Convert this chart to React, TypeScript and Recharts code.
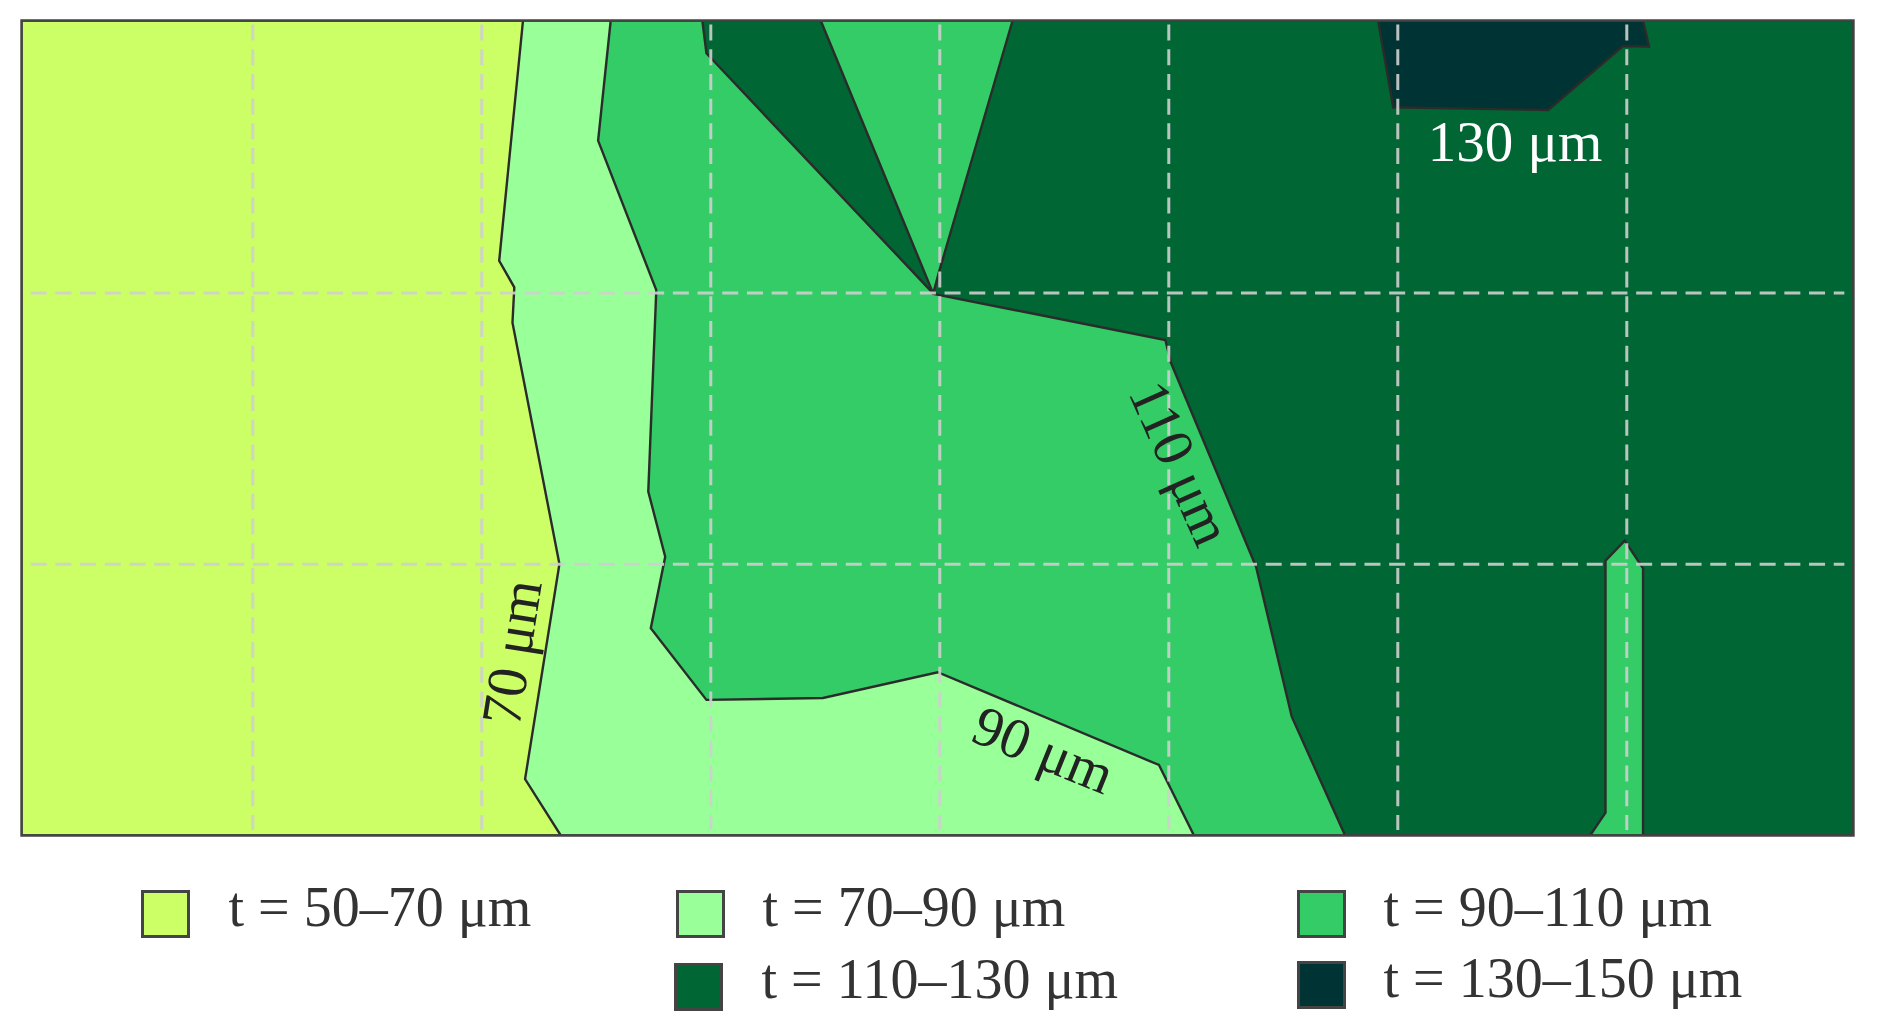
import React from 'react';
import { ScatterChart, Scatter, XAxis, YAxis, ReferenceLine, ReferenceArea, ReferenceDot } from 'recharts';

type Pt = { x: number; y: number };

const COLORS = ['#ccff66', '#99ff99', '#33cc66', '#006633', '#003333'];
const LEGEND_LABELS = ['t = 50–70 μm', 't = 70–90 μm', 't = 90–110 μm', 't = 110–130 μm', 't = 130–150 μm'];

const gridX = [100, 200, 300, 400, 500, 600, 700];
const gridY = [100, 200];

// outlines, closed by repeating the first point
const zone50: Pt[] = [
  { x: -1, y: -0.5 }, { x: 799, y: -0.5 }, { x: 799, y: 300 }, { x: -1, y: 300 }, { x: -1, y: -0.5 },
];
const zone70: Pt[] = [
  { x: 218, y: -0.5 }, { x: 207.6, y: 88.1 }, { x: 214.2, y: 97.9 }, { x: 213.4, y: 110.9 },
  { x: 233.9, y: 199.9 }, { x: 218.9, y: 279.2 }, { x: 234.5, y: 300 },
  { x: 799, y: 300 }, { x: 799, y: -0.5 }, { x: 218, y: -0.5 },
];
const zone90: Pt[] = [
  { x: 256.3, y: -0.5 }, { x: 250.8, y: 43.8 }, { x: 276.2, y: 98.9 }, { x: 272.7, y: 173.2 },
  { x: 280.1, y: 197.2 }, { x: 273.8, y: 223.6 }, { x: 298.1, y: 250 }, { x: 349, y: 249.3 },
  { x: 399.1, y: 239.8 }, { x: 495.7, y: 274 }, { x: 511, y: 300 },
  { x: 799, y: 300 }, { x: 799, y: -0.5 }, { x: 256.3, y: -0.5 },
];
const zone110: Pt[] = [
  { x: 431.8, y: -0.5 }, { x: 399.7, y: 92.1 }, { x: 397.1, y: 100.3 }, { x: 498.5, y: 117.3 },
  { x: 501, y: 125.8 }, { x: 538.1, y: 200.9 }, { x: 553.7, y: 256.2 }, { x: 577, y: 300 },
  { x: 799, y: 300 }, { x: 799, y: -0.5 }, { x: 431.8, y: -0.5 },
];
const wedge110: Pt[] = [
  { x: 296.3, y: -0.5 }, { x: 348, y: -0.5 }, { x: 397.1, y: 100.1 }, { x: 298.1, y: 11.6 }, { x: 296.3, y: -0.5 },
];
const island90: Pt[] = [
  { x: 684, y: 300 }, { x: 690.7, y: 291.6 }, { x: 690.7, y: 198.7 }, { x: 699.1, y: 191.3 },
  { x: 707.1, y: 201.5 }, { x: 707.1, y: 300 }, { x: 684, y: 300 },
];
const zone130: Pt[] = [
  { x: 591.4, y: -0.5 }, { x: 598, y: 31.5 }, { x: 665.7, y: 32.5 }, { x: 698.3, y: 8.9 },
  { x: 709.7, y: 9.1 }, { x: 707.1, y: -0.5 }, { x: 591.4, y: -0.5 },
];

const zones: { name: string; points: Pt[]; color: string }[] = [
  { name: 'zone50', points: zone50, color: COLORS[0] },
  { name: 'zone70', points: zone70, color: COLORS[1] },
  { name: 'zone90', points: zone90, color: COLORS[2] },
  { name: 'zone110', points: zone110, color: COLORS[3] },
  { name: 'wedge110', points: wedge110, color: COLORS[3] },
  { name: 'island90', points: island90, color: COLORS[2] },
  { name: 'zone130', points: zone130, color: COLORS[4] },
];

const contourLabels = [
  { text: '70 μm', x: 212.6, y: 232.4, angle: -81, fill: '#222' },
  { text: '110 μm', x: 505.5, y: 162.6, angle: 66, fill: '#222' },
  { text: '90 μm', x: 445.5, y: 268, angle: 22, fill: '#222' },
  { text: '130 μm', x: 651.2, y: 43.8, angle: 0, fill: '#fff' },
];

const FONT = '"Liberation Serif", serif';

const legendItems = [
  { left: 141, top: 890, textLeft: 228.5, baseline: 924 },
  { left: 676, top: 890, textLeft: 762.5, baseline: 924 },
  { left: 1297, top: 890, textLeft: 1383.5, baseline: 924 },
  { left: 674, top: 963, textLeft: 761.5, baseline: 996 },
  { left: 1297, top: 961, textLeft: 1383.5, baseline: 995 },
];

const noShape = () => <g />;

const App = () => {
  return (
    <div style={{ position: 'absolute', left: 0, top: 0, width: 1882, height: 1029, overflow: 'hidden', background: '#fff', fontFamily: FONT }}>
      <ScatterChart width={1882} height={1029} margin={{ left: 21.5, right: 28.5, top: 20.5, bottom: 193.5 }}>
        <XAxis type="number" dataKey="x" domain={[-1, 799]} hide allowDataOverflow />
        <YAxis type="number" dataKey="y" domain={[-0.5, 300]} reversed hide allowDataOverflow />
        {zones.map((z) => (
          <Scatter
            key={z.name}
            name={z.name}
            data={z.points}
            fill={z.color}
            shape={noShape}
            line={{ fill: z.color, stroke: '#2b2b2b', strokeWidth: 2.4 }}
            lineType="joint"
            isAnimationActive={false}
          />
        ))}
        {gridX.map((x) => (
          <ReferenceLine
            key={`gx-${x}`}
            segment={[{ x, y: 1 }, { x, y: 298 }]}
            stroke="#cfcfcf"
            strokeOpacity={0.9}
            strokeWidth={3}
            strokeDasharray="16 8.7"
            zIndex={700}
          />
        ))}
        {gridY.map((y) => (
          <ReferenceLine
            key={`gy-${y}`}
            segment={[{ x: 3, y }, { x: 795, y }]}
            stroke="#cfcfcf"
            strokeOpacity={0.9}
            strokeWidth={3}
            strokeDasharray="16 8.7"
            zIndex={700}
          />
        ))}
        <ReferenceArea x1={-1} x2={799} y1={-0.5} y2={300} fill="none" stroke="#444" strokeWidth={2.4} ifOverflow="visible" zIndex={800} />
        {contourLabels.map((l) => (
          <ReferenceDot
            key={l.text}
            x={l.x}
            y={l.y}
            r={0}
            stroke="none"
            zIndex={900}
            label={{ value: l.text, position: 'center', angle: l.angle, fill: l.fill, fontSize: 57, fontFamily: FONT }}
          />
        ))}
      </ScatterChart>
      {legendItems.map((item, i) => (
        <React.Fragment key={LEGEND_LABELS[i]}>
          <div style={{ position: 'absolute', left: item.left, top: item.top, width: 49, height: 48, boxSizing: 'border-box', background: COLORS[i], border: '3px solid #444' }} />
          <div style={{ position: 'absolute', left: item.textLeft, top: item.baseline - 48, fontSize: 56, lineHeight: '62px', color: '#333', whiteSpace: 'nowrap' }}>
            {LEGEND_LABELS[i]}
          </div>
        </React.Fragment>
      ))}
    </div>
  );
};

export default App;
